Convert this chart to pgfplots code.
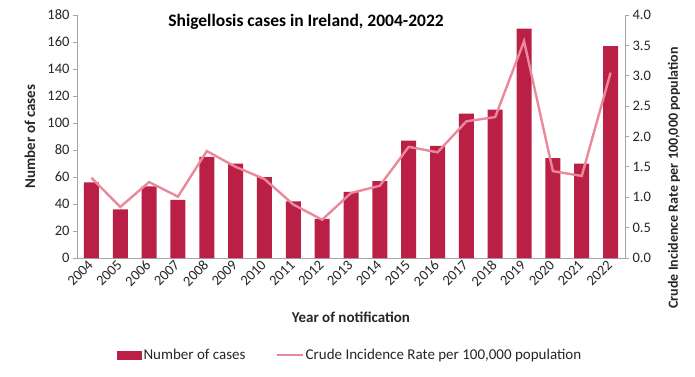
\documentclass[border=0pt]{standalone}
\usepackage{pgfplots}
\pgfplotsset{compat=1.18}
\usepackage{fontspec}
\setmainfont{Carlito}
\definecolor{barcol}{RGB}{186,31,70}
\definecolor{linecol}{RGB}{234,137,156}
\definecolor{axcol}{RGB}{166,166,166}
\definecolor{txtcol}{RGB}{38,38,38}
\pgfplotstableread{
x cases rate
0 56 1.32
1 36 0.84
2 53 1.25
3 43 1.01
4 75 1.76
5 70 1.50
6 60 1.30
7 42 0.88
8 29 0.63
9 49 1.07
10 57 1.19
11 87 1.83
12 83 1.74
13 107 2.25
14 110 2.32
15 170 3.57
16 74 1.43
17 70 1.35
18 157 3.05
}\datatable
\begin{document}
\begin{tikzpicture}[x=1pt,y=1pt]
\path[use as bounding box] (0,0) rectangle (695,376);
\begin{axis}[
  at={(77pt,118pt)}, anchor=south west,
  scale only axis, width=548pt, height=243pt,
  xmin=-0.5, xmax=18.5, ymin=0, ymax=180,
  ytick={0,20,...,180},
  xtick={0,...,18},
  xticklabels={2004,2005,2006,2007,2008,2009,2010,2011,2012,2013,2014,2015,2016,2017,2018,2019,2020,2021,2022},
  x tick label style={rotate=45, anchor=east, font=\fontsize{14.5}{16}\selectfont, text=txtcol, inner sep=1pt},
  y tick label style={font=\fontsize{14.5}{16}\selectfont, text=txtcol},
  /pgf/number format/assume math mode=true,
  axis x line*=bottom, axis y line*=left,
  axis line style={axcol, line width=0.8pt},
  x axis line style={-}, y axis line style={-},
  major x tick style={draw=none},
  major y tick style={axcol, line width=0.8pt},
  tick align=outside, major tick length=4pt,
  ylabel={Number of cases},
  every axis y label/.style={at={(axis description cs:-0.0858,0.5)}, rotate=90, anchor=center,
    font=\fontsize{15}{17}\selectfont\bfseries, text=txtcol},
  xlabel={Year of notification},
  every axis x label/.style={at={(axis description cs:0.5,-0.243)}, anchor=center,
    font=\fontsize{15}{17}\selectfont\bfseries, text=txtcol},
  legend style={at={(axis description cs:0.498,-0.40)}, anchor=center, draw=none, legend columns=2,
    font=\fontsize{15}{17}\selectfont, text=txtcol,
    /tikz/every even column/.append style={column sep=28pt}},
]
\addplot[ybar, bar width=0.52, fill=barcol, draw=none,
  legend image code/.code={\fill[barcol] (0pt,-4.5pt) rectangle (25pt,4.5pt);}]
  table[x=x, y=cases]{\datatable};
\addlegendentry{Number of cases}
\addlegendimage{linecol, line width=2.2pt, legend image code/.code={\draw[linecol, line width=2.2pt] (0pt,0pt) -- (26pt,0pt);}}
\addlegendentry{Crude Incidence Rate per 100,000 population}
\end{axis}
\begin{axis}[
  at={(77pt,118pt)}, anchor=south west,
  scale only axis, width=548pt, height=243pt,
  xmin=-0.5, xmax=18.5, ymin=0, ymax=4,
  ytick={0,0.5,...,4},
  axis x line=none, axis y line*=right,
  axis line style={axcol, line width=0.8pt}, y axis line style={-},
  major y tick style={axcol, line width=0.8pt},
  tick align=outside, major tick length=4pt,
  y tick label style={font=\fontsize{14.5}{16}\selectfont, text=txtcol, /pgf/number format/.cd, fixed, fixed zerofill, precision=1},
  /pgf/number format/assume math mode=true,
  ylabel={Crude Incidence Rate per 100,000 population},
  every axis y label/.style={at={(axis description cs:1.0894,0.33)}, rotate=90, anchor=center,
    font=\fontsize{14}{16}\selectfont\bfseries, text=txtcol},
]
\addplot[linecol, line width=2.4pt, mark=none] table[x=x, y=rate]{\datatable};
\end{axis}
\node[font=\fontsize{17.5}{19}\selectfont\bfseries, text=black] at (306,354) {Shigellosis cases in Ireland, 2004-2022};
\end{tikzpicture}
\end{document}
